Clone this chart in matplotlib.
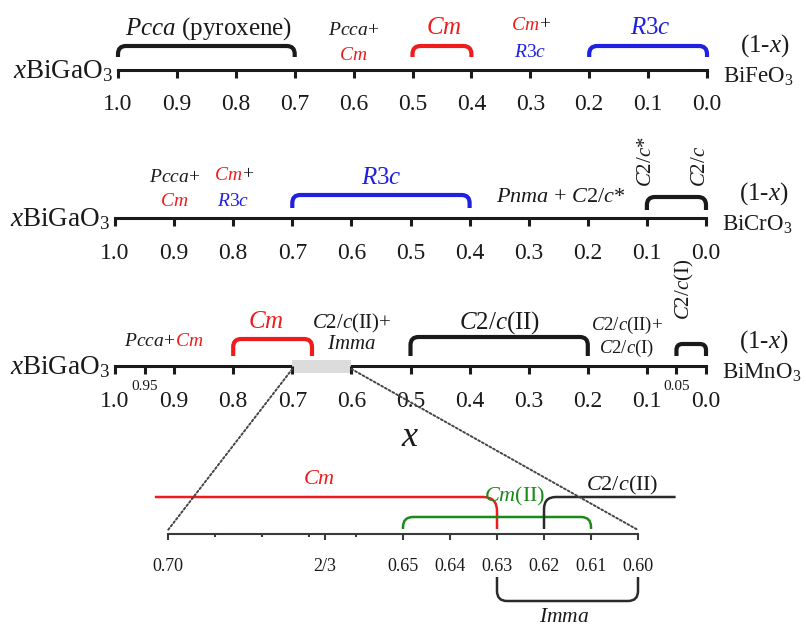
import matplotlib.pyplot as plt
from matplotlib.path import Path
from matplotlib.patches import PathPatch, Rectangle, ConnectionPatch
from matplotlib.offsetbox import TextArea, HPacker, AnnotationBbox

plt.rcParams['font.family'] = 'Liberation Serif'
plt.rcParams['mathtext.fontset'] = 'custom'
plt.rcParams['mathtext.rm'] = 'Liberation Serif'
plt.rcParams['mathtext.it'] = 'Liberation Serif:italic'

RED = '#ee1c1c'
BLUE = '#2020e0'
GREEN = '#1a8a1a'
INK = '#1a1a1a'

# ---- data ----
major_ticks = [1.0, 0.9, 0.8, 0.7, 0.6, 0.5, 0.4, 0.3, 0.2, 0.1, 0.0]
major_labels = ['1.0', '0.9', '0.8', '0.7', '0.6', '0.5', '0.4', '0.3', '0.2', '0.1', '0.0']
mn_minor_ticks = [0.95, 0.05]
mn_minor_labels = ['0.95', '0.05']

# BiGaO3 - BiFeO3
fe_phase = ['Pcca (pyroxene)', 'Cm', 'R3c']
fe_lo = [1.0, 0.5, 0.2]
fe_hi = [0.7, 0.4, 0.0]
fe_mix_x = [0.6, 0.3]

# BiGaO3 - BiCrO3
cr_phase = ['R3c', 'C2/c']
cr_lo = [0.7, 0.1]
cr_hi = [0.4, 0.0]
cr_mix_x = [0.9, 0.8, 0.245]

# BiGaO3 - BiMnO3
mn_phase = ['Cm', 'C2/c(II)', 'C2/c(I)']
mn_lo = [0.8, 0.5, 0.05]
mn_hi = [2 / 3, 0.2, 0.0]
mn_mix_x = [0.917, 0.6, 0.134]
mn_zoom = [0.7, 0.6]

# zoomed region 0.70 - 0.60
zoom_ticks = [0.70, 2 / 3, 0.65, 0.64, 0.63, 0.62, 0.61, 0.60]
zoom_labels = ['0.70', '2/3', '0.65', '0.64', '0.63', '0.62', '0.61', '0.60']
zoom_minor = [0.69, 0.68, 0.67, 0.66]
zoom_phase = ['Cm', 'Cm(II)', 'C2/c(II)', 'Imma']
zoom_lo = [0.7028, 0.65, 0.62, 0.63]
zoom_hi = [0.63, 0.61, 0.592, 0.60]

TEX = {
    'Pcca (pyroxene)': r'$Pcca$ (pyroxene)',
    'Cm': r'$Cm$',
    'R3c': r'$\mathit{R3c}$',
    'C2/c': r'$C$2/$c$',
    'C2/c*': r'$C$2/$c$*',
    'C2/c(II)': r'$C$2/$c$(II)',
    'C2/c(I)': r'$C$2/$c$(I)',
    'Cm(II)': r'$Cm$(II)',
    'Imma': r'$Imma$',
}

W, H = 806, 628
fig = plt.figure(figsize=(W / 100, H / 100), dpi=100)


def make_row(left, right, line, xlim, lw=2.2, color=INK):
    ax = fig.add_axes([left / W, 1 - (line + 100) / H, (right - left) / W, 200 / H])
    ax.set_xlim(*xlim)
    ax.set_ylim(-100, 100)
    ax.patch.set_visible(False)
    for s in ('top', 'left', 'right'):
        ax.spines[s].set_visible(False)
    ax.spines['bottom'].set_position(('data', 0))
    ax.spines['bottom'].set_linewidth(lw)
    ax.spines['bottom'].set_color(color)
    ax.yaxis.set_visible(False)
    ax.tick_params(axis='x', which='both', direction='out', width=lw, color=color,
                   labelcolor=INK)
    return ax, (right - left) / abs(xlim[1] - xlim[0])


def phase_path(ax, x0, x1, y_top, y_base, color, scale, lw=3.0, r=8,
               left=True, right=True):
    d = 1 if x1 > x0 else -1
    sy = 1 if y_top > y_base else -1
    r = min(r, abs(y_top - y_base))
    rx = r / scale
    verts, codes = [], []
    if left:
        verts += [(x0, y_base), (x0, y_top - sy * r), (x0, y_top), (x0 + d * rx, y_top)]
        codes += [Path.MOVETO, Path.LINETO, Path.CURVE3, Path.CURVE3]
    else:
        verts += [(x0, y_top)]
        codes += [Path.MOVETO]
    if right:
        verts += [(x1 - d * rx, y_top), (x1, y_top), (x1, y_top - sy * r), (x1, y_base)]
        codes += [Path.LINETO, Path.CURVE3, Path.CURVE3, Path.LINETO]
    else:
        verts += [(x1, y_top)]
        codes += [Path.LINETO]
    ax.add_patch(PathPatch(Path(verts, codes), fill=False, ec=color, lw=lw,
                           capstyle='butt', joinstyle='round', clip_on=False))


def label(ax, x, y, s, size, color=INK, **kw):
    ax.text(x, y, s, fontsize=size, color=color, ha='center',
            va=kw.pop('va', 'center_baseline'), clip_on=False, **kw)


def mixed(ax, x, y, pieces, size):
    boxes = [TextArea(s, textprops=dict(color=c, fontsize=size)) for s, c in pieces]
    pack = HPacker(children=boxes, pad=0, sep=0, align='baseline')
    ab = AnnotationBbox(pack, (x, y), xycoords='data', frameon=False,
                        box_alignment=(0.5, 0.5), pad=0, annotation_clip=False)
    ax.add_artist(ab)


def ends(ax, scale, x_left, x_right, right_name):
    ax.text(x_left + 5 / scale, -8, r'$x$BiGaO$_3$', fontsize=19.5, color=INK,
            ha='right', va='baseline')
    ax.text(x_right - 33 / scale, 18, '(1-$x$)', fontsize=18, color=INK,
            ha='left', va='baseline')
    ax.text(x_right - 16 / scale, -13, right_name, fontsize=16.5, color=INK,
            ha='left', va='baseline')


# ---------------- row 1 : BiFeO3 ----------------
ax1, s1 = make_row(118, 707, 70, (1.0, 0.0))
ax1.set_xticks(major_ticks, major_labels)
ax1.tick_params(axis='x', length=6, labelsize=17, pad=11.5)
fe_col = [INK, RED, BLUE]
for name, lo, hi, c in zip(fe_phase, fe_lo, fe_hi, fe_col):
    phase_path(ax1, lo, hi, 24, 13, c, s1)
    label(ax1, (lo + hi) / 2 - 0.004, 45, TEX[name], 18, c)
label(ax1, fe_mix_x[0], 42, r'$Pcca$+', 14)
label(ax1, fe_mix_x[0], 17, r'$Cm$', 14, RED)
mixed(ax1, fe_mix_x[1], 45, [(r'$Cm$', RED), ('+', INK)], 14)
label(ax1, fe_mix_x[1], 20, TEX['R3c'], 14, BLUE)
ends(ax1, s1, 1.0, 0.0, r'BiFeO$_3$')

# ---------------- row 2 : BiCrO3 ----------------
ax2, s2 = make_row(115, 706, 218, (1.0, 0.0))
ax2.set_xticks(major_ticks, major_labels)
ax2.tick_params(axis='x', length=6, labelsize=17, pad=12)
cr_col = [BLUE, INK]
phase_path(ax2, cr_lo[0], cr_hi[0], 23, 10, cr_col[0], s2)
label(ax2, (cr_lo[0] + cr_hi[0]) / 2, 43, TEX[cr_phase[0]], 18, BLUE)
phase_path(ax2, cr_lo[1], cr_hi[1], 21, 8, cr_col[1], s2)
label(ax2, cr_lo[1], 56, TEX['C2/c*'], 15, rotation=90, va='center')
label(ax2, cr_hi[1] + 0.01, 52, TEX['C2/c'], 15, rotation=90, va='center')
label(ax2, cr_mix_x[0], 43, r'$Pcca$+', 14)
label(ax2, cr_mix_x[0], 18, r'$Cm$', 14, RED)
mixed(ax2, cr_mix_x[1], 43, [(r'$Cm$', RED), ('+', INK)], 14)
label(ax2, cr_mix_x[1], 18, TEX['R3c'], 14, BLUE)
label(ax2, cr_mix_x[2], 23, r'$Pnma$ + $C$2/$c$*', 16)
ends(ax2, s2, 1.0, 0.0, r'BiCrO$_3$')

# ---------------- row 3 : BiMnO3 ----------------
ax3, s3 = make_row(115, 706, 366, (1.0, 0.0))
ax3.set_xticks(major_ticks, major_labels)
ax3.set_xticks(mn_minor_ticks, mn_minor_labels, minor=True)
ax3.tick_params(axis='x', which='major', length=6, labelsize=17, pad=12)
ax3.tick_params(axis='x', which='minor', length=6, labelsize=11, pad=4)
ax3.spines['bottom'].set_zorder(2)
ax3.xaxis.set_zorder(4)
ax3.add_patch(Rectangle((mn_zoom[1], -7), mn_zoom[0] - mn_zoom[1], 13,
                        fc='#dcdcdc', ec='none', zorder=3, clip_on=False))
mn_col = [RED, INK, INK]
phase_path(ax3, mn_lo[0], mn_hi[0], 27, 10, mn_col[0], s3)
label(ax3, 0.745, 47, TEX['Cm'], 18, RED)
phase_path(ax3, mn_lo[1], mn_hi[1], 29, 10, mn_col[1], s3)
label(ax3, (mn_lo[1] + mn_hi[1]) / 2, 47, TEX['C2/c(II)'], 18)
phase_path(ax3, mn_lo[2], mn_hi[2], 22, 10, mn_col[2], s3, r=6)
label(ax3, 0.036, 77, TEX['C2/c(I)'], 15, rotation=90, va='center')
mixed(ax3, mn_mix_x[0], 25, [(r'$Pcca$+', INK), (r'$Cm$', RED)], 14)
label(ax3, mn_mix_x[1], 46, r'$C$2/$c$(II)+', 15)
label(ax3, mn_mix_x[1], 24, TEX['Imma'], 15)
label(ax3, mn_mix_x[2], 44, r'$C$2/$c$(II)+', 13.5)
label(ax3, mn_mix_x[2], 21, TEX['C2/c(I)'], 13.5)
ends(ax3, s3, 1.0, 0.0, r'BiMnO$_3$')
ax3.text(0.5, -72, r'$x$', fontsize=26, color=INK, ha='center', va='center')

# ---------------- zoomed row ----------------
axz, sz = make_row(168, 638, 534, (0.70, 0.60), lw=1.5, color='#3a3a3a')
axz.set_xticks(zoom_ticks, zoom_labels)
axz.set_xticks(zoom_minor, minor=True)
axz.tick_params(axis='x', which='major', length=4.5, labelsize=13, pad=13)
axz.tick_params(axis='x', which='minor', length=2.5)
phase_path(axz, zoom_lo[0], zoom_hi[0], 37, 5, RED, sz, lw=1.8, r=14, left=False)
label(axz, 0.6679, 57, TEX['Cm'], 16, RED)
phase_path(axz, zoom_lo[1], zoom_hi[1], 17, 5, GREEN, sz, lw=1.8, r=10)
label(axz, 0.6262, 41, TEX['Cm(II)'], 16, GREEN)
phase_path(axz, zoom_lo[2], zoom_hi[2], 37, 5, '#2a2a2a', sz, lw=1.8, r=12, right=False)
label(axz, 0.6034, 52, TEX['C2/c(II)'], 16)
phase_path(axz, zoom_lo[3], zoom_hi[3], -67, -43, '#2a2a2a', sz, lw=1.8, r=10)
label(axz, (zoom_lo[3] + zoom_hi[3]) / 2 + 0.0008, -81, TEX['Imma'], 15.5)

# dotted guides from the grey box to the zoomed axis
for xa, xb in zip(mn_zoom, [zoom_ticks[0], zoom_ticks[-1]]):
    con = ConnectionPatch(xyA=(xa, -3), coordsA=ax3.transData,
                          xyB=(xb, 4), coordsB=axz.transData,
                          ls=(0, (1, 1.2)), lw=1.4, color='#444444')
    fig.add_artist(con)

fig.savefig('out.png', dpi=100)
